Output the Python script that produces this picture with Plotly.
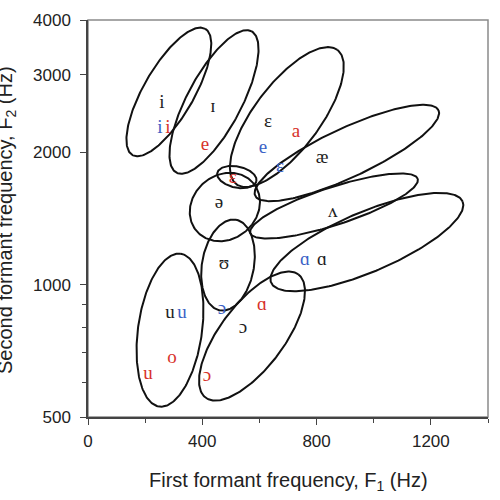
import numpy as np
import plotly.graph_objects as go

# ---------------- data ----------------
# Vowel regions (ellipses): centre F1 (Hz), centre F2 (Hz),
# semi-axes expressed in F1-Hz equivalents on the display, tilt (deg)
ell_name = ["i", "ɪ", "ɛ", "æ", "ʌ", "ɑ", "ə", "ɛ2", "ʊ", "u", "ɔ"]
ell_f1 = [283, 441, 696, 906, 861, 976, 479, 521, 490, 287, 574]
ell_f2 = [2744, 2604, 2406, 1993, 1510, 1250, 1502, 1757, 1108, 788, 764]
ell_major = [255, 280, 294, 354, 308, 364, 130, 70, 161, 270, 270]
ell_minor = [88, 95, 115, 86, 66, 105, 112, 37, 91, 112, 112]
ell_angle = [60, 62, 53, 25, 18, 23, 40, -12, 80, 82, 53]

# vowel symbols
lab_text = ["i", "i", "i", "ɪ", "e", "ɛ", "a", "e", "ɛ", "æ", "ɛ", "ə", "ʌ", "ʊ",
            "ɑ", "ɑ", "ɑ", "ɔ", "ɔ", "u", "u", "o", "u", "ɔ"]
lab_f1 = [259, 252, 280, 437, 409, 630, 728, 612, 672, 819, 507, 458, 857, 476,
          759, 819, 609, 542, 469, 287, 329, 294, 210, 416]
lab_f2 = [2590, 2272, 2272, 2535, 2078, 2344, 2224, 2045, 1852, 1942, 1748, 1534, 1464, 1114,
          1138, 1138, 899, 797, 880, 862, 862, 681, 626, 620]
lab_group = ["k", "b", "r", "k", "r", "k", "r", "b", "b", "k", "r", "k", "k", "k",
             "b", "k", "r", "k", "b", "k", "b", "r", "r", "r"]

x_ticks = [0, 400, 800, 1200]
x_minor = [200, 600, 1000, 1400]
y_ticks = [500, 1000, 2000, 3000, 4000]
y_minor = [600, 700, 800, 900]
X_RANGE = [0, 1400]
Y_RANGE = [500, 4000]

# ---------------- layout geometry ----------------
W, H = 500, 500
ML, MR, MT, MB = 88, 12, 20, 83
plot_w = W - ML - MR
plot_h = H - MT - MB
px_per_hz = plot_w / (X_RANGE[1] - X_RANGE[0])
px_per_dec = plot_h / (np.log10(Y_RANGE[1]) - np.log10(Y_RANGE[0]))

colors = {"k": "#1e1e1e", "r": "#d7322c", "b": "#3b62c6"}

fig = go.Figure()

t = np.linspace(0, 2 * np.pi, 241)
for cx, cy, a, b, ang in zip(ell_f1, ell_f2, ell_major, ell_minor, ell_angle):
    th = np.deg2rad(ang)
    ap, bp = a * px_per_hz, b * px_per_hz
    dx = ap * np.cos(t) * np.cos(th) - bp * np.sin(t) * np.sin(th)
    dy = ap * np.cos(t) * np.sin(th) + bp * np.sin(t) * np.cos(th)
    xs = cx + dx / px_per_hz
    ys = cy * 10 ** (dy / px_per_dec)
    fig.add_trace(go.Scatter(x=xs, y=ys, mode="lines",
                             line=dict(color="#111111", width=2),
                             hoverinfo="skip", showlegend=False))

for g in ["k", "r", "b"]:
    idx = [i for i, gg in enumerate(lab_group) if gg == g]
    fig.add_trace(go.Scatter(
        x=[lab_f1[i] for i in idx], y=[lab_f2[i] for i in idx],
        text=[lab_text[i] for i in idx], mode="text",
        textposition="middle center",
        textfont=dict(family="Liberation Serif, DejaVu Serif, serif",
                      size=19, color=colors[g]),
        showlegend=False, hoverinfo="skip"))

tickfont = dict(family="Liberation Sans, Arial, sans-serif", size=17, color="#222222")
titlefont = dict(family="Liberation Sans, Arial, sans-serif", size=20, color="#222222")

fig.update_layout(
    width=W, height=H,
    margin=dict(l=ML, r=MR, t=MT, b=MB),
    paper_bgcolor="white", plot_bgcolor="white",
    xaxis=dict(range=X_RANGE, tickvals=x_ticks, ticktext=[str(v) for v in x_ticks],
               ticks="outside", ticklen=6, tickwidth=1.2, tickcolor="#444",
               showline=True, linecolor="#444", linewidth=1.5,
               showgrid=False, zeroline=False, tickfont=tickfont,
               ticklabelstandoff=2,
               minor=dict(tickvals=x_minor, ticks="outside", ticklen=4,
                          tickcolor="#444", showgrid=False)),
    yaxis=dict(type="log", range=[np.log10(Y_RANGE[0]), np.log10(Y_RANGE[1])],
               tickvals=y_ticks, ticktext=[str(v) for v in y_ticks],
               ticks="outside", ticklen=6, tickwidth=1.2, tickcolor="#444",
               showline=True, linecolor="#444", linewidth=1.5,
               showgrid=False, zeroline=False, tickfont=tickfont,
               ticklabelstandoff=6,
               minor=dict(tickvals=y_minor, ticks="outside", ticklen=4,
                          tickcolor="#444", showgrid=False)),
    shapes=[dict(type="rect", xref="paper", yref="paper", x0=0, x1=1, y0=0, y1=1,
                 line=dict(color="#8a8a8a", width=1.5), layer="below")],
    annotations=[
        dict(text="First formant frequency, F<sub>1</sub> (Hz)", xref="paper", yref="paper",
             x=(288 - ML) / plot_w, y=(H - MB - 481) / plot_h,
             xanchor="center", yanchor="middle", showarrow=False, font=titlefont),
        dict(text="Second formant frequency, F<sub>2</sub> (Hz)", xref="paper", yref="paper",
             x=(6 - ML) / plot_w, y=(H - MB - 220) / plot_h, textangle=-90,
             xanchor="center", yanchor="middle", showarrow=False, font=titlefont),
    ],
)

fig.write_html("out.html", config={"displayModeBar": False},
               post_script="document.body.style.margin='0';document.body.style.overflow='hidden';")
